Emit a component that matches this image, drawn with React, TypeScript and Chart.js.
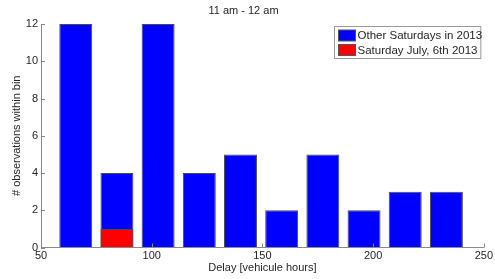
import React, { useEffect, useRef } from "react";
import { Chart, registerables } from "chart.js";

Chart.register(...registerables);

const binCenters = [65.7, 84.3, 102.9, 121.5, 140.1, 158.7, 177.3, 195.9, 214.5, 233.1];
const otherSaturdays = [12, 4, 12, 4, 5, 2, 5, 2, 3, 3];
const july6Centers = [84.3];
const july6Counts = [1];
const xTickValues = [50, 100, 150, 200, 250];
const yTickValues = [0, 2, 4, 6, 8, 10, 12];
const titleText = "11 am - 12 am";
const xLabel = "Delay [vehicule hours]";
const yLabel = "# observations within bin";
const legendLabels = ["Other Saturdays in 2013", "Saturday July, 6th 2013"];

const FONT = "'Liberation Sans', Arial, sans-serif";
const TEXT = "#262626";
const AXIS = "#8a8a8a";

const insideTicks = {
  id: "insideTicks",
  afterDraw(chart: any) {
    const { ctx, chartArea, scales } = chart;
    ctx.save();
    ctx.strokeStyle = AXIS;
    ctx.lineWidth = 1;
    ctx.beginPath();
    yTickValues.forEach((v) => {
      const y = Math.round(scales.y.getPixelForValue(v)) + 0.5;
      ctx.moveTo(chartArea.left, y);
      ctx.lineTo(chartArea.left + 4, y);
    });
    xTickValues.forEach((v) => {
      const x = Math.round(scales.x.getPixelForValue(v)) + 0.5;
      ctx.moveTo(x, chartArea.bottom);
      ctx.lineTo(x, chartArea.bottom - 4);
    });
    ctx.stroke();
    ctx.restore();
  },
};

const boxLegend = {
  id: "boxLegend",
  afterDraw(chart: any) {
    const { ctx, chartArea } = chart;
    const colors = ["#0000ff", "#ff0000"];
    const bx = 334.5;
    const by = 26.5;
    const bw = chartArea.right - 3 - bx;
    const bh = 32;
    ctx.save();
    ctx.fillStyle = "#ffffff";
    ctx.fillRect(bx, by, bw, bh);
    ctx.strokeStyle = "#9a9a9a";
    ctx.lineWidth = 1;
    ctx.strokeRect(bx, by, bw, bh);
    ctx.font = `11.5px ${FONT}`;
    ctx.textBaseline = "middle";
    legendLabels.forEach((lab, i) => {
      const cy = by + 9 + i * 14.5;
      ctx.fillStyle = colors[i];
      ctx.fillRect(bx + 4, cy - 5.5, 17, 11);
      ctx.strokeStyle = "#555555";
      ctx.strokeRect(bx + 4, cy - 5.5, 17, 11);
      ctx.fillStyle = TEXT;
      ctx.fillText(lab, bx + 23, cy + 0.5);
    });
    ctx.restore();
  },
};

export default function App() {
  const ref = useRef<HTMLCanvasElement>(null);
  useEffect(() => {
    if (!ref.current) return;
    const chart = new Chart(ref.current, {
      type: "bar",
      data: {
        datasets: [
          {
            label: legendLabels[1],
            data: july6Centers.map((x, i) => ({ x, y: july6Counts[i] })),
            backgroundColor: "#ff0000",
            borderColor: "#4a4a4a",
            borderWidth: 1,
            barPercentage: 0.8,
            categoryPercentage: 1,
          },
          {
            label: legendLabels[0],
            data: binCenters.map((x, i) => ({ x, y: otherSaturdays[i] })),
            backgroundColor: "#0000ff",
            borderColor: "#4a4a4a",
            borderWidth: 1,
            barPercentage: 0.8,
            categoryPercentage: 1,
          },
        ],
      },
      options: {
        animation: false,
        responsive: false,
        maintainAspectRatio: false,
        layout: { padding: { left: 0, right: 8, top: 0, bottom: 0 } },
        plugins: {
          legend: { display: false },
          tooltip: { enabled: false },
          title: {
            display: true,
            text: titleText,
            color: TEXT,
            font: { family: FONT, size: 11, weight: "normal" },
            padding: { top: 4.4, bottom: 6.4 },
          },
        },
        scales: {
          x: {
            type: "linear",
            min: 50,
            max: 250,
            offset: false,
            stacked: true,
            afterFit: (s: any) => {
              s.height = 31.5;
            },
            afterBuildTicks: (s: any) => {
              s.ticks = xTickValues.map((v) => ({ value: v }));
            },
            ticks: {
              color: TEXT,
              font: { family: FONT, size: 11 },
              padding: 2,
              maxRotation: 0,
              autoSkip: false,
            },
            grid: { display: true, offset: false, drawOnChartArea: false, drawTicks: false, color: AXIS },
            border: { display: true, color: AXIS, width: 1 },
            title: {
              display: true,
              text: xLabel,
              color: TEXT,
              font: { family: FONT, size: 11 },
              padding: { top: 0, bottom: 4.7 },
            },
          },
          y: {
            min: 0,
            max: 12,
            stacked: false,
            afterFit: (s: any) => {
              s.width = 41;
            },
            afterBuildTicks: (s: any) => {
              s.ticks = yTickValues.map((v) => ({ value: v }));
            },
            ticks: {
              color: TEXT,
              font: { family: FONT, size: 11 },
              padding: 3,
            },
            grid: { display: true, drawOnChartArea: false, drawTicks: false, color: AXIS },
            border: { display: true, color: AXIS, width: 1 },
            title: {
              display: true,
              text: yLabel,
              color: TEXT,
              font: { family: FONT, size: 11 },
              padding: { top: 10.5, bottom: 0 },
            },
          },
        },
      },
      plugins: [insideTicks, boxLegend],
    });
    return () => chart.destroy();
  }, []);
  return (
    <div style={{ position: "fixed", left: 0, top: 0, width: 495, height: 279, background: "#fff" }}>
      <canvas ref={ref} width={495} height={279} style={{ display: "block" }} />
    </div>
  );
}
